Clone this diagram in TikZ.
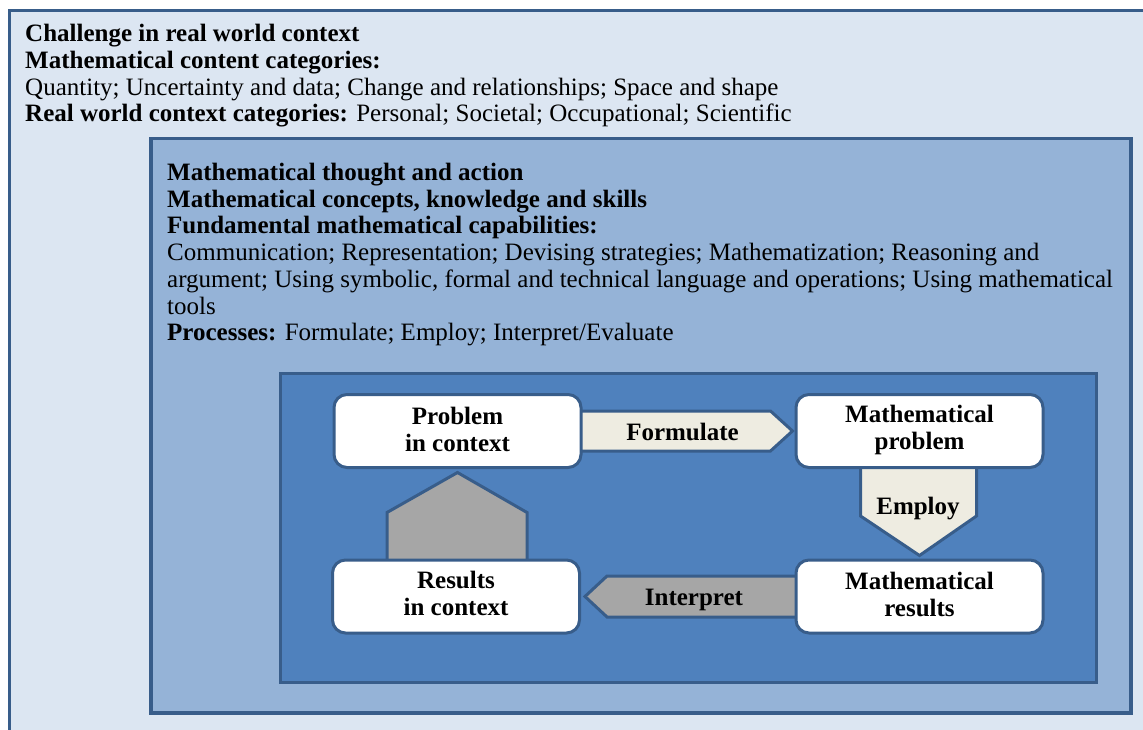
\documentclass[tikz,border=0pt]{standalone}
\usepackage{fontspec}
\setmainfont{Liberation Serif}
\usetikzlibrary{calc}
\definecolor{outerfill}{HTML}{DCE6F2}
\definecolor{midfill}{HTML}{95B3D7}
\definecolor{innerfill}{HTML}{4F81BD}
\definecolor{bordc}{HTML}{385D8A}
\definecolor{cream}{HTML}{EEECE1}
\definecolor{greyarrow}{HTML}{A6A6A6}
\tikzset{
  txt/.style={anchor=base west, inner sep=0pt, font=\fontsize{25pt}{27pt}\selectfont},
  frame/.style={draw=bordc, line width=3.2pt},
  stepbox/.style={draw=bordc, line width=3pt, fill=white, rounded corners=13pt,
    minimum width=247pt, minimum height=73pt, inner sep=0pt},
  boxtext/.style={align=center, inner sep=0pt,
    font=\fontsize{25pt}{27pt}\selectfont\bfseries},
  creamarrow/.style={draw=bordc, line width=3pt, fill=cream},
  greyarr/.style={draw=bordc, line width=3pt, fill=greyarrow},
  lbl/.style={inner sep=0pt, font=\fontsize{25pt}{27pt}\selectfont\bfseries}
}
\begin{document}
\begin{tikzpicture}[x=1pt,y=-1pt]
\useasboundingbox (0,0) rectangle (1143,730);
\clip (0,0) rectangle (1143,730);
% outer frame
\draw[frame, fill=outerfill] (9.2,10.6) rectangle (1170,760);
\node[txt] (t1) at (25,42) {\textbf{Challenge in real world context}};
\node[txt] (t2) at (25,68.7) {\textbf{Mathematical content categories:}};
\node[txt] (t3) at (25,95.3) {Quantity; Uncertainty and data; Change and relationships; Space and shape};
\node[txt] (t4) at (25,122) {\textbf{Real world context categories:} Personal; Societal; Occupational; Scientific};
% middle frame
\draw[frame, line width=3.5pt, fill=midfill] (150.8,138.7) rectangle (1131,713);
\node[txt] (m1) at (167,180.5) {\textbf{Mathematical thought and action}};
\node[txt] (m2) at (167,207.2) {\textbf{Mathematical concepts, knowledge and skills}};
\node[txt] (m3) at (167,233.9) {\textbf{Fundamental mathematical capabilities:}};
\node[txt] (m4) at (167,260.6) {Communication; Representation; Devising strategies; Mathematization; Reasoning and};
\node[txt] (m5) at (167,287.3) {argument; Using symbolic, formal and technical language and operations; Using mathematical};
\node[txt] (m6) at (167,314) {tools};
\node[txt] (m7) at (167,340.7) {\textbf{Processes:} Formulate; Employ; Interpret/Evaluate};
% inner frame
\draw[frame, line width=3pt, fill=innerfill] (280.5,373.5) rectangle (1096.5,682);
% box positions
\coordinate (probc) at (457.5,431);
\coordinate (mprobc) at (919.5,431);
\coordinate (resc) at (456,596.5);
\coordinate (mresc) at (919.5,596.5);
\path (probc) node[stepbox, draw=none, fill=none] (prob) {};
\path (mprobc) node[stepbox, draw=none, fill=none] (mprob) {};
\path (resc) node[stepbox, draw=none, fill=none] (res) {};
\path (mresc) node[stepbox, draw=none, fill=none] (mres) {};
% arrows (beneath the boxes)
\draw[creamarrow] ($(prob.east)+(-8,-20)$) -- ($(mprob.west)+(-24,-20)$) -- ($(mprob.west)+(-2,0)$) -- ($(mprob.west)+(-24,20)$) -- ($(prob.east)+(-8,20)$) -- cycle;
\draw[creamarrow] ($(mprob.south)+(-59,-6)$) -- ($(mprob.south)+(57,-6)$) -- ($(mprob.south)+(57,47)$) -- ($(mres.north)+(0,-3)$) -- ($(mprob.south)+(-59,47)$) -- cycle;
\draw[greyarr] ($(mres.west)+(6,-20.5)$) -- ($(res.east)+(26,-20.5)$) -- ($(res.east)+(4,0)$) -- ($(res.east)+(26,20.5)$) -- ($(mres.west)+(6,20.5)$) -- cycle;
\draw[greyarr] ($(res.north)+(-69,6)$) -- ($(res.north)+(-69,-46)$) -- ($(prob.south)+(0,3.5)$) -- ($(res.north)+(71,-46)$) -- ($(res.north)+(71,6)$) -- cycle;
% visible boxes
\node[stepbox] (probv) at (probc) {};
\node[stepbox] (mprobv) at (mprobc) {};
\node[stepbox] (resv) at (resc) {};
\node[stepbox] (mresv) at (mresc) {};
\node[boxtext] (probt) at ($(probc)+(0,-2)$) {Problem\\in context};
\node[boxtext] (mprobt) at ($(mprobc)+(0,-1)$) {Mathematical\\problem};
\node[boxtext] (rest) at ($(resc)+(0,-3)$) {Results\\in context};
\node[boxtext] (mrest) at ($(mresc)+(0,-2)$) {Mathematical\\results};
% arrow labels
\node[lbl] (flab) at (682.5,432) {Formulate};
\node[lbl] (elab) at (918,509) {Employ};
\node[lbl] (ilab) at (694,600) {Interpret};
\end{tikzpicture}
\end{document}
